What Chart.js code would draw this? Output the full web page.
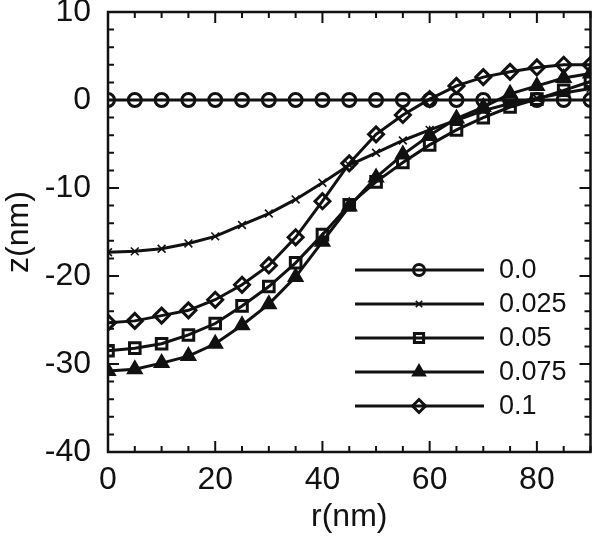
<!DOCTYPE html>
<html>
<head>
<meta charset="utf-8">
<script src="https://cdn.jsdelivr.net/npm/chart.js@4/dist/chart.umd.min.js"></script>
<style>
  html, body { margin: 0; padding: 0; background: #fff; }
  #wrap { width: 601px; height: 536px; }
</style>
</head>
<body>
<div id="wrap"><canvas id="myChart"></canvas></div>
<script>
// data
const rValues = [0, 5, 10, 15, 20, 25, 30, 35, 40, 45, 50, 55, 60, 65, 70, 75, 80, 85, 90];
const seriesLabels = ["0.0", "0.025", "0.05", "0.075", "0.1"];
const z00 = [0, 0, 0, 0, 0, 0, 0, 0, 0, 0, 0, 0, 0, 0, 0, 0, 0, 0, 0];
const z025 = [-17.3, -17.2, -16.9, -16.3, -15.5, -14.2, -12.9, -11.3, -9.4, -7.4, -6.0, -4.6, -3.4, -2.3, -1.2, -0.4, 0.2, 0.8, 1.3];
const z05 = [-28.5, -28.2, -27.7, -26.7, -25.4, -23.4, -21.2, -18.5, -15.3, -11.9, -9.3, -7.1, -5.1, -3.4, -2.0, -0.8, 0.1, 1.1, 2.1];
const z075 = [-30.8, -30.6, -29.9, -29.1, -27.7, -25.6, -23.2, -20.1, -16.1, -12.1, -8.8, -6.2, -4.0, -2.1, -0.8, 0.7, 1.6, 2.5, 3.0];
const z10 = [-25.3, -25.1, -24.5, -23.9, -22.7, -21.0, -18.8, -15.6, -11.5, -7.2, -3.9, -1.7, 0.1, 1.6, 2.6, 3.2, 3.7, 4.0, 4.0];
const xTickLabels = [0, 20, 40, 60, 80];
const yTickLabels = [10, 0, -10, -20, -30, -40];

const FONT = "'Liberation Sans', Arial, Helvetica, sans-serif";

function pts(zs) {
  return rValues.map((r, i) => ({ x: r, y: zs[i] }));
}

function series(label, zs, style, radius, bw, fill) {
  return {
    label: label,
    data: pts(zs),
    borderColor: "#111",
    borderWidth: 3,
    pointStyle: style,
    pointRadius: radius,
    pointBorderWidth: bw,
    pointBorderColor: "#111",
    pointBackgroundColor: fill,
    showLine: true,
    tension: 0,
  };
}

const datasets = [
  series(seriesLabels[0], z00, "circle", 6.5, 3, "rgba(0,0,0,0)"),
  series(seriesLabels[1], z025, "crossRot", 5.5, 1.6, "rgba(0,0,0,0)"),
  series(seriesLabels[2], z05, "rect", 7.5, 3, "rgba(0,0,0,0)"),
  series(seriesLabels[3], z075, "triangle", 8, 2, "#111"),
  series(seriesLabels[4], z10, "rectRot", 7.5, 3, "rgba(0,0,0,0)"),
];

// frame + inward ticks on all four sides
const framePlugin = {
  id: "frame",
  beforeDatasetsDraw(chart) {
    const { ctx, chartArea: a, scales } = chart;
    const sx = scales.x, sy = scales.y;
    ctx.save();
    ctx.strokeStyle = "#111";
    ctx.lineWidth = 2;
    ctx.beginPath();
    for (let v = 0; v <= 90; v += 5) {
      const px = sx.getPixelForValue(v);
      const len = v % 20 === 0 ? 11 : 6;
      ctx.moveTo(px, a.bottom); ctx.lineTo(px, a.bottom - len);
      ctx.moveTo(px, a.top); ctx.lineTo(px, a.top + len);
    }
    for (let v = -40; v <= 10; v += 2) {
      const py = sy.getPixelForValue(v);
      const len = v % 10 === 0 ? 11 : 6;
      ctx.moveTo(a.left, py); ctx.lineTo(a.left + len, py);
      ctx.moveTo(a.right, py); ctx.lineTo(a.right - len, py);
    }
    ctx.stroke();
    ctx.lineWidth = 2.5;
    ctx.strokeRect(a.left, a.top, a.right - a.left, a.bottom - a.top);
    ctx.restore();
  },
  afterDraw(chart) {
    // legend inside the plot, lower right
    const { ctx } = chart;
    ctx.save();
    chart.data.datasets.forEach((ds, i) => {
      const y = 270 + i * 34;
      ctx.strokeStyle = "#111";
      ctx.lineWidth = 3;
      ctx.beginPath();
      ctx.moveTo(355, y);
      ctx.lineTo(484, y);
      ctx.stroke();
      ctx.lineWidth = ds.pointBorderWidth;
      ctx.strokeStyle = ds.pointBorderColor;
      ctx.fillStyle = ds.pointBackgroundColor;
      Chart.helpers.drawPoint(ctx, { pointStyle: ds.pointStyle, radius: ds.pointRadius - 1, borderWidth: ds.pointBorderWidth, rotation: 0 }, 419, y);
      ctx.fillStyle = "#111";
      ctx.font = "27px " + FONT;
      ctx.textBaseline = "middle";
      ctx.textAlign = "left";
      ctx.fillText(ds.label, 499, y + 1);
    });
    ctx.restore();
  },
};

const config = {
  type: "scatter",
  data: { datasets: datasets },
  options: {
    responsive: true,
    maintainAspectRatio: false,
    animation: false,
    layout: { padding: { top: 12, right: 8, left: 0, bottom: 0 } },
    plugins: {
      legend: { display: false },
      tooltip: { enabled: false },
    },
    scales: {
      x: {
        type: "linear",
        min: 0,
        max: 90,
        grid: { display: false, drawTicks: false },
        border: { display: false },
        afterBuildTicks: (s) => { s.ticks = xTickLabels.map((v) => ({ value: v })); },
        afterFit: (s) => { s.height = 84; s.paddingLeft = 0; s.paddingRight = 0; },
        ticks: {
          color: "#111",
          padding: 9,
          font: { size: 32, family: FONT },
        },
        title: {
          display: true,
          text: "r(nm)",
          color: "#111",
          padding: { top: 0, bottom: 0 },
          font: { size: 32, family: FONT },
        },
      },
      y: {
        type: "linear",
        min: -40,
        max: 10,
        grid: { display: false, drawTicks: false },
        border: { display: false },
        afterBuildTicks: (s) => { s.ticks = yTickLabels.map((v) => ({ value: v })); },
        afterFit: (s) => { s.width = 108; s.paddingTop = 0; s.paddingBottom = 0; },
        ticks: {
          color: "#111",
          padding: 17,
          font: { size: 32, family: FONT },
        },
        title: {
          display: true,
          text: "z(nm)",
          color: "#111",
          padding: { top: 0, bottom: 0 },
          font: { size: 32, family: FONT },
        },
      },
    },
  },
  plugins: [framePlugin],
};

const myChart = new Chart(document.getElementById("myChart"), config);
</script>
</body>
</html>
